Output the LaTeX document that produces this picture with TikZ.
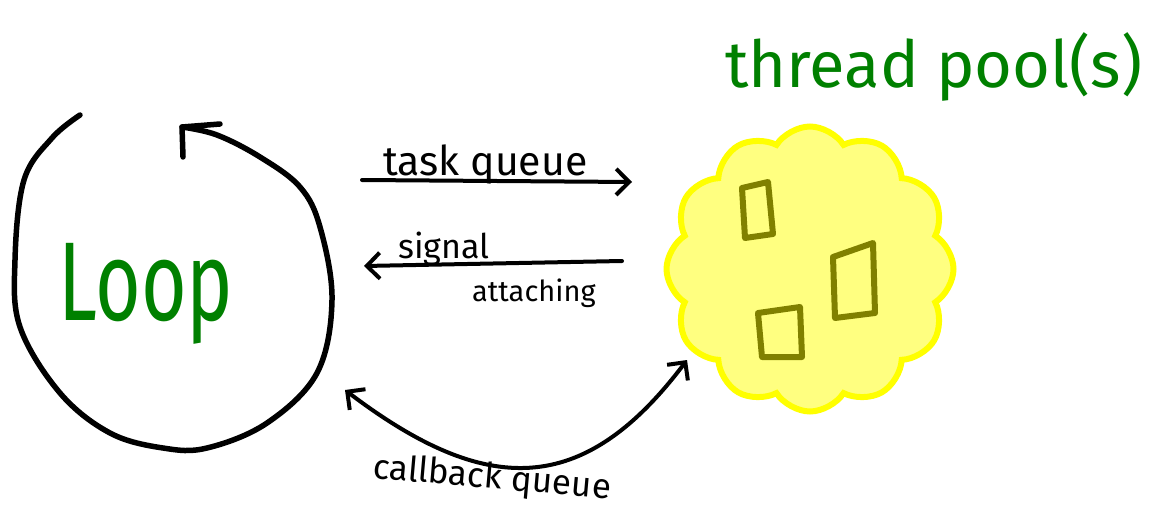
\documentclass[tikz,border=0pt]{standalone}
\usepackage{fontspec}
\setmainfont{Fira Sans}
\usetikzlibrary{arrows.meta,shapes.symbols}
\definecolor{inkgreen}{RGB}{0,128,0}
\definecolor{poolfill}{RGB}{255,255,128}
\definecolor{poolline}{RGB}{255,255,0}
\definecolor{workerolive}{RGB}{128,128,0}
\begin{document}
\begin{tikzpicture}[x=1pt,y=-1pt,
  ink/.style={line width=4pt,line cap=round,line join=round},
  barbend/.style={-{Straight Barb[length=13pt,width=26pt,line width=4pt]}},
  barbboth/.style={{Straight Barb[length=13pt,width=26pt,line width=4pt]}-{Straight Barb[length=13pt,width=26pt,line width=4pt]}},
  txt/.style={inner sep=0pt,anchor=base west},
  pool/.style={cloud,cloud puffs=12,cloud puff arc=115,cloud ignores aspect,
    draw=poolline,fill=poolfill,line width=6pt},
  worker/.style={draw=workerolive,line width=6pt,line join=round,line cap=round}]
\useasboundingbox (0,0) rectangle (1156,519);

% the event loop: an open circle ending in a barb
\coordinate (loopStart) at (80,115);
\coordinate (loopTip) at (182,127);
\draw[ink,line width=5.5pt] plot[smooth,tension=0.6] coordinates {
  (loopStart) (52,138) (24,180) (15,260) (20,327) (60,393) (110,433)
  (163,448) (207,448) (267,423) (317,373) (332,300) (320,227) (300,187)
  (260,157) (217,135) (loopTip)};
\draw[ink,line width=5.5pt] (183,157) -- (loopTip) -- (220,124);
\node[txt,text=inkgreen,font=\fontsize{112}{112}\selectfont,xscale=0.7] (loop) at (58,320) {Loop};

% thread pool
\node[pool,minimum width=287pt,minimum height=285pt] (pool) at (810,269) {};
\draw[worker] (742,188) -- (768,182) -- (773,234) -- (745,238) -- cycle;
\draw[worker] (833,257) -- (873,243) -- (875,313) -- (835,318) -- cycle;
\draw[worker] (758,313) -- (800,307) -- (802,357) -- (762,357) -- cycle;
\node[txt,text=inkgreen,font=\fontsize{65}{65}\selectfont] (title) at (725,88) {thread pool(s)};

% queues between loop and pool
\coordinate (tqL) at (362,180);
\coordinate (tqR) at (632,182);
\draw[ink,barbend] (tqL) -- (tqR);
\node[txt,font=\fontsize{41}{41}\selectfont] (tq) at (383,175) {task queue};

\coordinate (sgR) at (622,261);
\coordinate (sgL) at (364,266);
\draw[ink,barbend] (sgR) -- (sgL);
\node[txt,font=\fontsize{34}{34}\selectfont] (sg) at (398,258) {signal};
\node[txt,font=\fontsize{29}{29}\selectfont] (at) at (472,301) {attaching};

\coordinate (cbL) at (345,390);
\coordinate (cbR) at (687,360);
\draw[ink,barbboth] (cbL) .. controls (486,497) and (583,498) .. (cbR);
\node[txt,font=\fontsize{35}{35}\selectfont,rotate=-5] (cb) at (372,478) {callback queue};
\end{tikzpicture}
\end{document}
